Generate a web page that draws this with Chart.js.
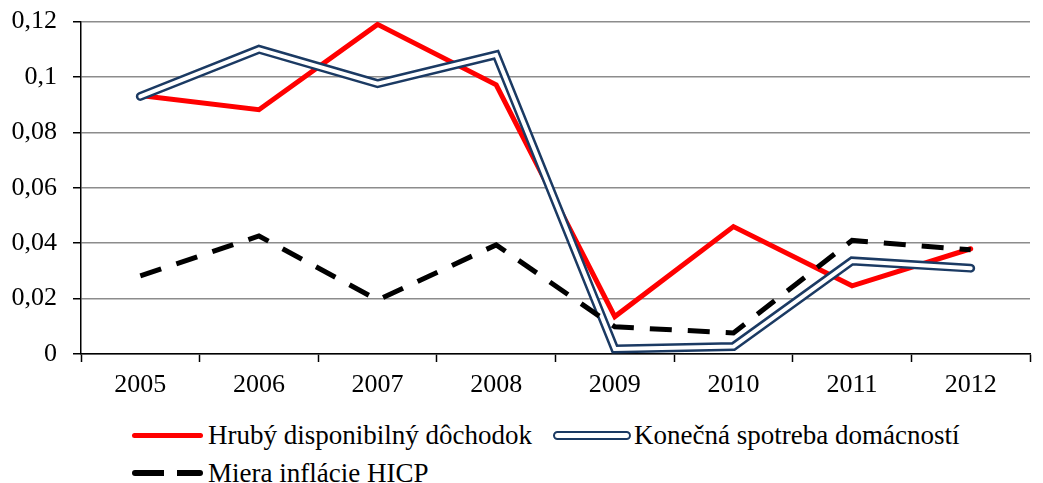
<!DOCTYPE html>
<html>
<head>
<meta charset="utf-8">
<script src="https://cdn.jsdelivr.net/npm/chart.js@4/dist/chart.umd.min.js"></script>
<style>
  body { margin: 0; background: #fff; }
  #wrap { position: relative; width: 1043px; height: 483px; overflow: hidden; }
  #chart { position: absolute; left: 0; top: -10px; }
  .legend { position: absolute; font-family: 'Liberation Serif', serif; font-size: 27px; line-height: 30px; color: #000; display: flex; align-items: center; white-space: nowrap; }
  .sw { display: inline-block; width: 71px; margin-right: 5px; box-sizing: border-box; }
  .sw-red { height: 5px; background: #ff0000; border-radius: 3px; }
  .sw-navy { width: 78px; height: 9px; border: 2.5px solid #1b3a63; background: #fff; border-radius: 5px; margin-right: 3px; }
  .sw-dash { height: 6px; background: linear-gradient(to right, #000 0 32px, transparent 32px 45px, #000 45px 71px); border-radius: 3px; }
</style>
</head>
<body>
<div id="wrap">
  <canvas id="chart" width="1043" height="410"></canvas>
  <div class="legend" style="left:132px; top:420px;"><span class="sw sw-red"></span>Hrubý disponibilný dôchodok</div>
  <div class="legend" style="left:553px; top:420px;"><span class="sw sw-navy"></span>Konečná spotreba domácností</div>
  <div class="legend" style="left:132px; top:458px;"><span class="sw sw-dash"></span>Miera inflácie HICP</div>
</div>
<script>
// data
const years = ['2005', '2006', '2007', '2008', '2009', '2010', '2011', '2012'];
const hrubyDochodok = [0.0933, 0.0882, 0.119, 0.0972, 0.0135, 0.046, 0.0246, 0.038];
const konecnaSpotreba = [0.093, 0.110, 0.0976, 0.108, 0.0018, 0.0027, 0.0336, 0.031];
const inflaciaHICP = [0.0282, 0.0426, 0.0195, 0.0394, 0.0098, 0.0076, 0.041, 0.0376];
const yTicks = [0, 0.02, 0.04, 0.06, 0.08, 0.1, 0.12];

const font = { family: "'Liberation Serif', serif", size: 26 };

new Chart(document.getElementById('chart').getContext('2d'), {
  type: 'line',
  data: {
    labels: years,
    datasets: [
      { label: 'Miera inflácie HICP', data: inflaciaHICP, borderColor: '#000', borderWidth: 5, borderDash: [22, 16], borderCapStyle: 'butt', order: 0 },
      { label: 'inner', data: konecnaSpotreba, borderColor: '#fff', borderWidth: 4, borderCapStyle: 'round', order: 1 },
      { label: 'Konečná spotreba domácností', data: konecnaSpotreba, borderColor: '#1b3a63', borderWidth: 9, borderCapStyle: 'round', order: 2 },
      { label: 'Hrubý disponibilný dôchodok', data: hrubyDochodok, borderColor: '#ff0000', borderWidth: 5, borderCapStyle: 'round', order: 3 }
    ]
  },
  options: {
    responsive: false,
    animation: false,
    layout: { padding: { top: 0, right: 13, left: 0, bottom: 0 } },
    elements: { point: { radius: 0 }, line: { tension: 0, fill: false } },
    plugins: { legend: { display: false }, tooltip: { enabled: false } },
    scales: {
      x: {
        offset: true,
        grid: { display: true, drawOnChartArea: false, offset: true, color: '#000', tickLength: 8, tickWidth: 1.5 },
        border: { color: '#000', width: 1.5 },
        ticks: { color: '#000', font: font, padding: 8 },
        afterFit: (s) => { s.height = 46; }
      },
      y: {
        min: 0,
        max: 0.12,
        afterBuildTicks: (s) => { s.ticks = yTicks.map(v => ({ value: v })); },
        grid: { color: '#8c8c8c', lineWidth: 1.5, tickLength: 8, tickColor: '#000', tickWidth: 1.5 },
        border: { color: '#000', width: 1.5 },
        ticks: { color: '#000', font: font, padding: 16, callback: (v) => String(+v.toFixed(2)).replace('.', ',') },
        afterFit: (s) => { s.width = 81; }
      }
    }
  }
});
</script>
</body>
</html>
